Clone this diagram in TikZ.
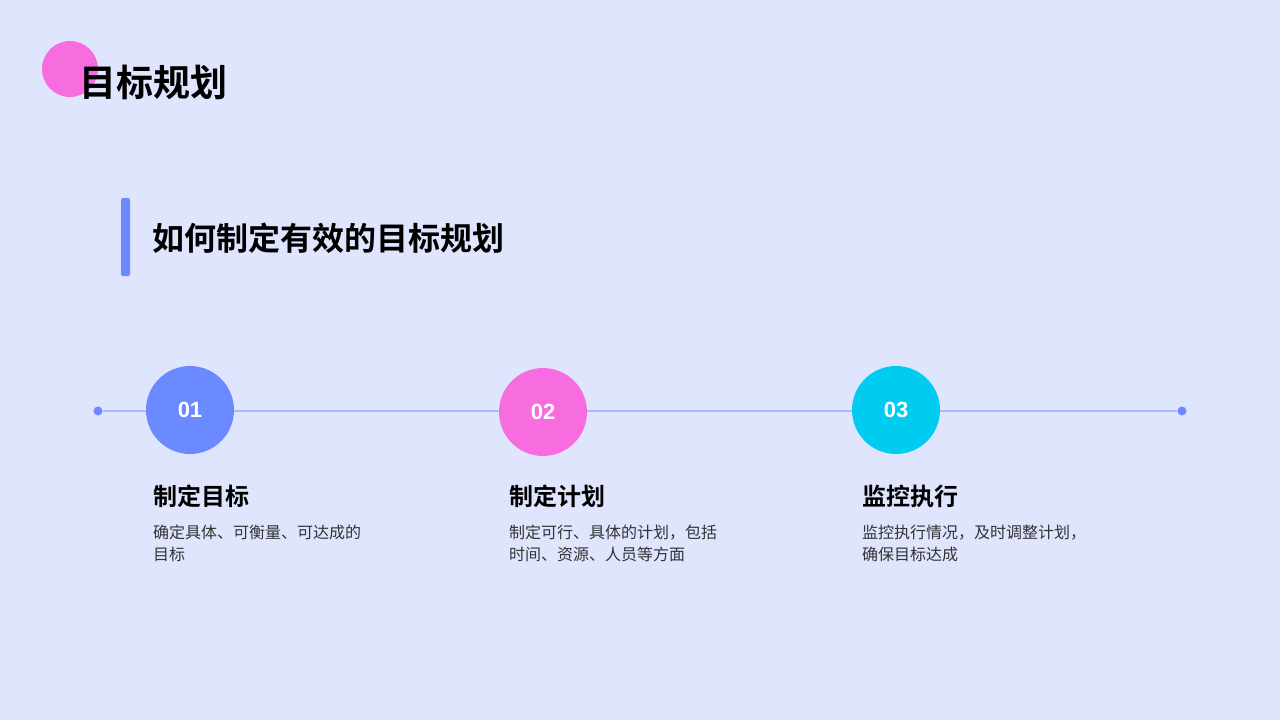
\documentclass[tikz,border=0pt]{standalone}
\usepackage{fontspec}
\newfontfamily\cjk{Noto Sans CJK SC}
\newfontfamily\cjkb{Noto Sans CJK SC Bold}
\newfontfamily\numf{Liberation Sans}
\definecolor{bg}{HTML}{E0E5FE}
\definecolor{cblue}{HTML}{6B8AFF}
\definecolor{cpink}{HTML}{F76DE0}
\definecolor{ccyan}{HTML}{00CCF2}
\definecolor{cline}{HTML}{A9B8FF}
\definecolor{ctext}{HTML}{333333}
\begin{document}
\begin{tikzpicture}[x=1pt,y=-1pt,
  stepcirc/.style={circle,minimum size=88pt,inner sep=0pt,text=white,font=\numf\bfseries\fontsize{22}{26}\selectfont},
  headtxt/.style={anchor=west,inner sep=0pt,font=\cjkb\fontsize{24}{28}\selectfont,text=black},
  desctxt/.style={anchor=north west,inner sep=0pt,align=left,font=\cjk\fontsize{16}{22}\selectfont,text=ctext},
  enddot/.style={circle,fill=cblue,minimum size=9pt,inner sep=0pt}]
\fill[bg] (0,0) rectangle (1280,720);
\useasboundingbox (0,0) rectangle (1280,720);
% title
\fill[cpink] (70,69) circle (28);
\node[anchor=west,inner sep=0pt,font=\cjkb\fontsize{37}{40}\selectfont] (title) at (79,82) {目标规划};
% subtitle
\fill[cblue,rounded corners=2pt] (121,198) rectangle (130,276);
\node[anchor=west,inner sep=0pt,font=\cjkb\fontsize{32}{36}\selectfont] (sub) at (152,238) {如何制定有效的目标规划};
% timeline
\node[enddot] (d1) at (98,411) {};
\node[enddot] (d2) at (1182,411) {};
\draw[cline,line width=1.5pt] (d1) -- (d2);
\node[stepcirc,fill=cblue] (c1) at (190,410) {01};
\node[stepcirc,fill=cpink] (c2) at (543,412) {02};
\node[stepcirc,fill=ccyan] (c3) at (896,410) {03};
% texts
\node[headtxt] (h1) at (153,496) {制定目标};
\node[headtxt] (h2) at (509,496) {制定计划};
\node[headtxt] (h3) at (862,496) {监控执行};
\node[desctxt] (t1) at (153,525) {确定具体、可衡量、可达成的\\目标};
\node[desctxt] (t2) at (509,525) {制定可行、具体的计划，包括\\时间、资源、人员等方面};
\node[desctxt] (t3) at (862,525) {监控执行情况，及时调整计划，\\确保目标达成};
\end{tikzpicture}
\end{document}
